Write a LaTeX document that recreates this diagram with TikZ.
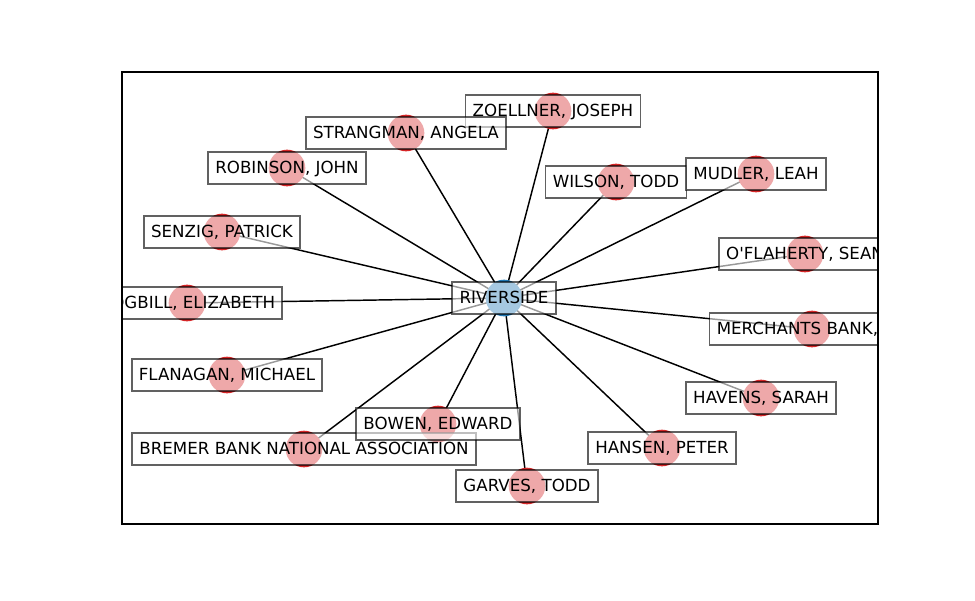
\documentclass[tikz,border=0pt]{standalone}
\usepackage{fontspec}
\setmainfont{DejaVu Sans}
\usepackage{tikz}
\usetikzlibrary{positioning}
\definecolor{tabred}{RGB}{214, 39, 40}
\definecolor{tabblue}{RGB}{31, 119, 180}

\begin{document}
\begin{tikzpicture}[x=0.72pt, y=-0.72pt,
  dot/.style={circle, fill=tabred, minimum size=26.4pt, inner sep=0pt},
  nbox/.style={rectangle, fill=white, fill opacity=0.6, draw=black,
    draw opacity=0.62, text opacity=1, line width=1.3pt,
    font=\fontsize{12pt}{14pt}\selectfont,
    inner xsep=5.2pt, inner ysep=4.3pt, text height=11.3pt, text depth=3pt},
  link/.style={line width=1.05pt, color=black},
  frame/.style={line width=0.8pt, color=black}
]
\useasboundingbox (0,0) rectangle (975,600);
% positions
\coordinate (riv) at (504, 298);
\coordinate (zoe) at (553, 111);
\coordinate (str) at (406, 133);
\coordinate (rob) at (287, 168);
\coordinate (wil) at (616, 182);
\coordinate (mud) at (756, 174);
\coordinate (sen) at (222, 232);
\coordinate (ofl) at (805, 254);
\coordinate (hog) at (187, 303);
\coordinate (mer) at (812, 329);
\coordinate (fla) at (227, 375);
\coordinate (hav) at (761, 398);
\coordinate (bow) at (438, 424);
\coordinate (bre) at (304, 449);
\coordinate (han) at (662, 448);
\coordinate (gar) at (527, 486);
% edges
\foreach \n in {zoe,str,rob,wil,mud,sen,ofl,hog,mer,fla,hav,bow,bre,han,gar}
  \draw[link] (riv) -- (\n);
% dots
\foreach \n in {zoe,str,rob,wil,mud,sen,ofl,hog,mer,fla,hav,bow,bre,han,gar}
  \node[dot] (\n-dot) at (\n) {};
\node[dot, fill=tabblue] (riv-dot) at (riv) {};
% labels
\begin{scope}
\clip (122,72) rectangle (878,524);
\node[nbox] (riv-lbl) at (riv) {RIVERSIDE};
\node[nbox] (zoe-lbl) at (zoe) {ZOELLNER, JOSEPH};
\node[nbox] (str-lbl) at (str) {STRANGMAN, ANGELA};
\node[nbox] (rob-lbl) at (rob) {ROBINSON, JOHN};
\node[nbox] (wil-lbl) at (wil) {WILSON, TODD};
\node[nbox] (mud-lbl) at (mud) {MUDLER, LEAH};
\node[nbox] (sen-lbl) at (sen) {SENZIG, PATRICK};
\node[nbox] (ofl-lbl) at (ofl) {O\textquotesingle FLAHERTY, SEAN};
\node[nbox] (hog-lbl) at (hog) {HOGBILL, ELIZABETH};
\node[nbox] (mer-lbl) at (mer) {MERCHANTS BANK, NA};
\node[nbox] (fla-lbl) at (fla) {FLANAGAN, MICHAEL};
\node[nbox] (hav-lbl) at (hav) {HAVENS, SARAH};
\node[nbox] (bre-lbl) at (bre) {BREMER BANK NATIONAL ASSOCIATION};
\node[nbox] (bow-lbl) at (bow) {BOWEN, EDWARD};
\node[nbox] (han-lbl) at (han) {HANSEN, PETER};
\node[nbox] (gar-lbl) at (gar) {GARVES, TODD};
\end{scope}
\draw[frame] (122,72) rectangle (878,524);
\end{tikzpicture}
\end{document}
